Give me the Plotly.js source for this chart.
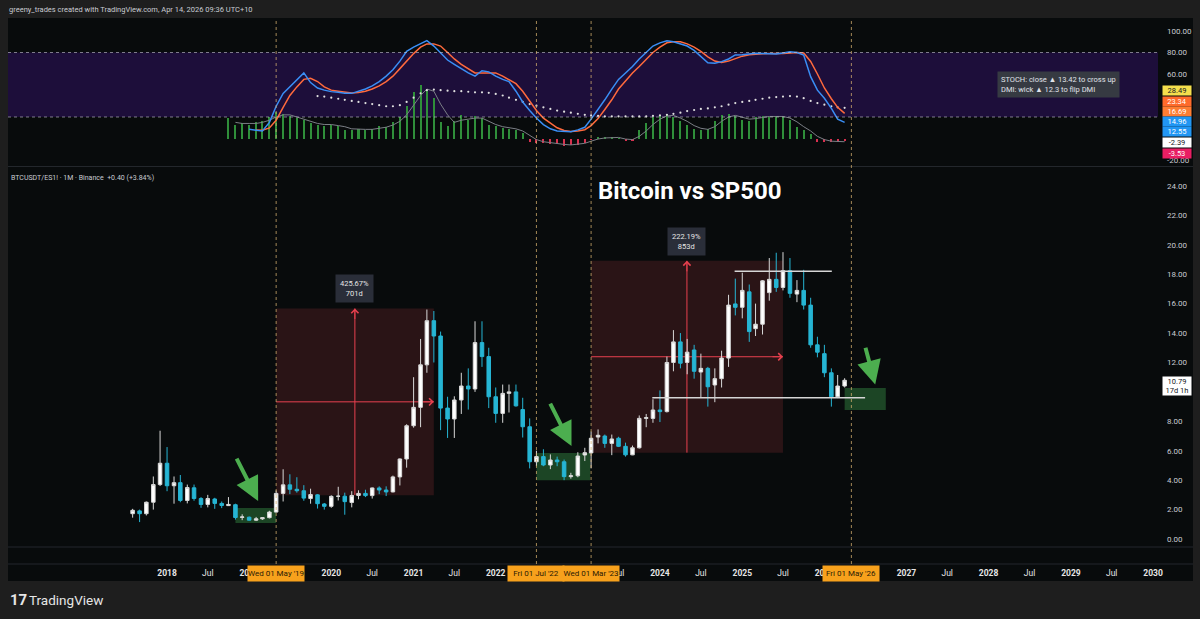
<!DOCTYPE html>
<html><head><meta charset="utf-8">
<script src="https://cdn.plot.ly/plotly-3.0.1.min.js"></script>
<style>html,body{margin:0;padding:0;background:#1e1e1e;}#chart{width:1200px;height:619px;}</style>
</head><body><div id="chart"></div>
<script>
// ---------- DATA (BTCUSDT / ES1!, monthly) ----------
const candleStart = '2017-08';
const openVals = [1.72,1.91,1.72,2.50,3.70,
 5.15,3.62,3.83,2.62,3.48,2.75,2.35,2.72,2.42,2.27,2.33,1.47,
 1.48,1.28,1.37,1.45,1.83,3.10,3.68,3.38,3.28,2.75,3.00,2.38,
 2.22,2.90,2.91,2.48,2.96,3.10,2.95,3.47,3.33,3.20,4.22,5.44,
 7.70,8.95,11.84,14.84,13.80,8.90,8.16,9.45,10.40,10.20,13.35,12.40,
 9.67,8.54,9.90,10.00,8.80,7.63,5.25,5.60,5.03,5.37,5.25,4.24,
 4.30,5.71,5.85,6.93,7.00,6.50,6.85,6.30,5.72,6.20,8.20,8.20,
 8.77,8.66,12.00,13.40,12.00,12.85,11.35,11.60,10.47,10.90,12.30,15.98,
 15.75,16.80,14.30,14.60,16.75,17.65,17.10,18.24,16.65,16.90,15.90,13.20,
 12.60,11.30,9.67,10.40];
const highVals = [2.05,2.00,2.55,4.25,7.36,
 6.25,4.25,4.35,3.70,3.70,2.85,3.00,2.80,2.55,2.85,2.40,1.68,
 1.53,1.50,1.48,1.92,3.30,4.74,4.40,4.20,3.66,3.42,3.05,2.45,
 2.97,3.55,3.15,3.25,3.31,3.35,3.50,3.58,3.58,4.31,5.48,7.80,
 11.00,13.60,15.60,15.50,14.10,9.67,9.70,11.30,11.60,14.80,14.80,13.00,
 10.30,10.50,10.50,10.50,9.60,8.20,6.00,6.10,5.75,5.60,5.40,4.50,
 5.90,6.20,7.30,7.45,7.10,7.10,6.95,6.55,6.35,8.40,8.50,9.50,
 10.10,12.40,14.20,14.00,13.60,13.20,12.60,11.70,11.60,12.80,16.60,17.70,
 18.10,17.30,16.00,17.60,19.10,19.46,19.50,19.10,17.60,18.30,16.40,13.75,
 13.20,11.60,11.15,10.93];
const lowVals = [1.45,1.15,1.60,2.00,3.60,
 3.25,2.40,2.50,2.42,2.60,2.12,2.15,2.05,2.10,2.25,1.32,1.28,
 1.25,1.22,1.30,1.40,1.80,2.55,3.05,3.15,2.60,2.40,2.07,2.00,
 2.12,2.62,1.65,2.15,2.70,2.85,2.75,3.05,2.92,3.17,3.64,4.85,
 7.57,7.60,11.30,12.00,7.40,6.87,6.87,8.50,8.80,10.00,11.70,8.90,
 7.90,7.90,8.60,9.00,6.90,4.80,4.95,4.95,4.75,4.95,4.00,4.10,
 4.20,5.30,4.80,6.50,6.20,5.70,6.25,5.60,5.70,6.15,7.60,7.90,
 7.95,8.60,11.40,11.60,11.20,10.90,9.65,9.00,9.30,10.30,11.70,15.20,
 15.00,13.40,13.80,13.90,16.20,16.80,16.90,16.40,16.10,15.60,13.00,12.35,
 11.00,9.00,9.58,10.30];
const closeVals = [1.95,1.72,2.50,3.70,5.15,
 3.62,3.83,2.62,3.50,2.75,2.35,2.75,2.42,2.28,2.35,1.46,1.50,
 1.28,1.37,1.45,1.83,3.10,3.68,3.38,3.28,2.78,3.02,2.40,2.22,
 2.90,2.91,2.54,2.96,3.10,2.95,3.47,3.33,3.20,4.22,5.44,7.70,
 8.95,11.84,14.84,13.80,8.90,8.16,9.45,10.40,10.20,13.35,12.40,9.67,
 8.54,9.90,10.00,9.05,7.63,5.25,5.60,5.03,5.37,5.25,4.24,4.30,
 5.64,5.87,6.85,7.05,6.50,6.80,6.30,5.72,6.20,8.20,8.25,8.77,
 8.66,12.00,13.40,11.95,12.70,11.40,11.60,10.35,10.90,12.30,15.90,15.75,
 16.90,14.10,14.60,17.55,17.65,17.10,18.24,16.70,16.90,15.90,13.20,12.70,
 11.30,9.67,10.40,10.79];

// Indicator pane (Stoch K / D, DMI dots, histogram + signal)
const kStart = '2019-01';
const kVals = [8.5,7.5,7,15,30,42,48,55,61,52,47,45,
 43.6,43,42,42,44,46,49,53,58,64,72,81,
 85,88,91,86,80,73,69,65,61,58,63,62,
 58,55,53,44,34,26,19,13,9,7,6.5,6.3,
 8,10.4,18,27,36,46,55,61,67,74,80,86,
 89,91,90,88,86,82,76,70.5,70,71.5,74,77.7,
 78,78.5,79.2,79,78.8,78.6,79.5,80.8,80,77.7,57.5,45,
 37.4,28,18,14.96];
const dStart = '2019-02';
const dVals = [8,7.7,9.8,17,29,40,48,55,56,53,48,
 45,44,43,42.3,42.7,44,46,49,53,58,65,72,
 79,85,88,88,86,80,74,69,65,61,61,61,
 61,58,55,51,44,35,26,19,14,10,7.5,6.6,
 7,8.2,12,18.5,27,36,46,54,61,67,74,80,
 85,89,90,90,88,85,81,76,72,70.7,72,74.4,
 76.6,78,78.6,78.9,79,78.8,79,79.6,80.1,79.5,71.7,60,
 47,37,29,23.34];
const dotStart = '2019-11';
const dotVals = [39.5,39,
 38,37,36,35,34,33,32,31,30,30,31,34,
 38,42,45,45.5,45,44.5,44,44,43.5,43,43,42.5,
 41.5,40,38,36,34,32,30.5,29,27.5,26,25,24,
 23,22,21.5,21,20.5,20.5,20.5,20.5,20.5,20.5,20.5,21,
 21.5,22,23,24,25.5,26.5,27.5,28,29,30,31.5,33,
 34,35,36,37,38,38.5,39,39.5,39,37.5,35,33,
 31.5,30,29,28.49];
const histStart = '2018-10';
const histVals = [19,13,14,
 13,15,16,20,25,23,21,19,17,14,13,12,
 13,12,8,8,9,8,9,12,11,15,20,30,
 43,50,44,38,15,12,16,22,17,21,19,13,
 12,10,9,8,5,-3,-4,-4,-5,-5,-7,-6,
 -6,-4,-1,1,1.5,1,0.5,-2,-2,8,14,20,
 22,23,20,16,13,9,8,9,16,22,23,21,
 17,16,20,21,20,21,20,17,11,8,4,-3,
 -3,-3.5,-3,-2.39];
const sigStart = '2018-11';
const sigVals = [15,14,
 14,14,15,17,20,22,22,20,18,16,14,13,
 13,12,11,9,8.5,8.5,8.5,9.5,10.5,12.5,16,22,
 31,40,46,44,32,22,15,17,18,19,19,16,
 13,11,10,9,7,3,-1,-3,-4,-4.5,-5.5,-6,
 -5.5,-4.5,-2.5,-0.5,0.5,1,1,-0.5,-1,2,7,13,
 18,21,21.5,19,16,12,9.5,8.5,11,16,20,21.5,
 19.5,18,18.5,19.5,20.5,20.5,20.5,19,15.5,11,7,2,
 -1,-2.5,-3,-3];

// Axis labels (ticks fully hidden under the date flags are left out)
const axisYears = [2018,2019,2020,2021,2022,2023,2024,2025,2026,2027,2028,2029,2030];
const hiddenTicks = ['2019-07-01','2022-07-01','2023-01-01','2026-07-01'];
const priceTicks = [0,2,4,6,8,10,12,14,16,18,20,22,24];
const oscTicks = [100,80,60,-20];

// Drawings
const measure1 = {start:'2019-05-01', end:'2021-04-01', low:2.98, high:15.67, pct:'425.67%', days:'701d'};
const measure2 = {start:'2023-03-01', end:'2025-07-01', low:5.87, high:18.91, pct:'222.19%', days:'853d'};
const markerDates = [['2019-05-01',"Wed 01 May '19"],['2022-07-01',"Fri 01 Jul '22"],['2023-03-01',"Wed 01 Mar '23"],['2026-05-01',"Fri 01 May '26"]];
const greenBoxes = [['2018-11-01','2019-05-01',1.09,2.1],['2022-07-01','2023-02-25',4.0,5.85],['2026-04-01','2026-10-01',8.77,10.27]];
const greenArrows = [['2018-11-03',5.57,'2019-02-10',2.58],['2022-08-28',9.31,'2022-12-04',6.32],['2026-07-01',13.1,'2026-08-15',10.5]];
const hLines = [['2024-11-28','2026-02-03',18.2],['2023-11-28','2026-07-01',9.6]];
const oscLabels = [['28.49','#f5df4d','#131722'],['23.34','#ff6a2b','#ffffff'],['16.69','#ff7d33','#ffffff'],['14.96','#2196f3','#ffffff'],['12.55','#2196f3','#ffffff'],['-2.39','#ffffff','#131722'],['-3.53','#e91e63','#ffffff']];

// ---------- helpers ----------
function months(start, n){
  let [y,m] = start.split('-').map(Number); const out=[];
  for(let i=0;i<n;i++){ out.push(y+'-'+String(m).padStart(2,'0')+'-01'); m++; if(m>12){m=1;y++;} }
  return out;
}
const PL=8, PR=1158, PT=18, PB=564;
const px = p => (p-PL)/(PR-PL);
const py = p => (PB-p)/(PB-PT);
function midDate(a,b){ return new Date((new Date(a).getTime()+new Date(b).getTime())/2).toISOString().slice(0,10); }

const candleX = months(candleStart, openVals.length);
const traces = [];
traces.push({type:'candlestick', x:candleX, open:openVals, high:highVals, low:lowVals, close:closeVals,
  xaxis:'x', yaxis:'y',
  increasing:{line:{color:'#d8d8d8',width:1}, fillcolor:'#ffffff'},
  decreasing:{line:{color:'#26b5d4',width:1}, fillcolor:'#26b5d4'},
  whiskerwidth:0, hoverinfo:'skip'});

const hx = months(histStart, histVals.length);
traces.push({type:'bar', x:hx, y:histVals, yaxis:'y2', width:9*86400000,
  marker:{color:histVals.map(v=>v>=0?'#2f8f3a':'#d9304f')}, hoverinfo:'skip'});
traces.push({type:'scatter', mode:'lines', x:months(sigStart,sigVals.length), y:sigVals, yaxis:'y2',
  line:{color:'#7b7f86',width:1}, hoverinfo:'skip'});
traces.push({type:'scatter', mode:'markers', x:months(dotStart,dotVals.length), y:dotVals, yaxis:'y2',
  marker:{color:'#e0e0e0',size:2.2}, hoverinfo:'skip'});
traces.push({type:'scatter', mode:'lines', x:months(dStart,dVals.length), y:dVals, yaxis:'y2',
  line:{color:'#ff6a3d',width:1.5}, hoverinfo:'skip'});
traces.push({type:'scatter', mode:'lines', x:months(kStart,kVals.length), y:kVals, yaxis:'y2',
  line:{color:'#3a8ef5',width:1.5}, hoverinfo:'skip'});

// ---------- shapes ----------
const shapes = [];
shapes.push({type:'rect', xref:'paper', yref:'paper', x0:px(8), x1:px(1193), y0:py(581), y1:py(18), fillcolor:'#080b0c', line:{width:0}, layer:'below'});
shapes.push({type:'rect', xref:'paper', yref:'y2', x0:0, x1:1, y0:20, y1:80, fillcolor:'#1d0e3a', line:{width:0}, layer:'below'});
[80,20].forEach(v=>shapes.push({type:'line', xref:'paper', yref:'y2', x0:0, x1:1, y0:v, y1:v, line:{color:'rgba(200,200,210,0.6)', width:1, dash:'dot'}}));
[166.5,547,564].forEach(p=>shapes.push({type:'line', xref:'paper', yref:'paper', x0:px(8), x1:px(1193), y0:py(p), y1:py(p), line:{color:'#23272c', width:1}}));
[measure1, measure2].forEach(m=>{
  const mx = midDate(m.start, m.end), my = (m.low+m.high)/2;
  shapes.push({type:'rect', xref:'x', yref:'y', x0:m.start, x1:m.end, y0:m.low, y1:m.high, fillcolor:'#2a1416', line:{width:0}, layer:'below'});
  shapes.push({type:'line', xref:'x', yref:'y', x0:mx, x1:mx, y0:m.low, y1:m.high, line:{color:'#e8414f', width:1}, layer:'below'});
  shapes.push({type:'line', xref:'x', yref:'y', x0:m.start, x1:m.end, y0:my, y1:my, line:{color:'#e8414f', width:1}, layer:'below'});
});
greenBoxes.forEach(b=>shapes.push({type:'rect', xref:'x', yref:'y', x0:b[0], x1:b[1], y0:b[2], y1:b[3], fillcolor:'#1c4525', line:{width:0}, layer:'below'}));
markerDates.forEach(d=>shapes.push({type:'line', xref:'x', yref:'paper', x0:d[0], x1:d[0], y0:0, y1:1, line:{color:'rgba(215,178,112,0.75)', width:1, dash:'dot'}}));
hLines.forEach(h=>shapes.push({type:'line', xref:'x', yref:'y', x0:h[0], x1:h[1], y0:h[2], y1:h[2], line:{color:'#d6d6d6', width:1.5}}));

// ---------- annotations ----------
const ann = [];
const T = (text, x, y, opt={}) => Object.assign({text, x:px(x), y:py(y), xref:'paper', yref:'paper', showarrow:false, xanchor:'left', yanchor:'middle', font:{family:'Roboto, Liberation Sans, sans-serif', size:8, color:'#c9ccd3'}}, opt);
ann.push(T('greeny_trades created with TradingView.com, Apr 14, 2026 09:36 UTC+10', 7, 9, {font:{family:'Roboto',size:7.5,color:'#c9ccd3'}}));
ann.push(T('BTCUSDT/ES1! · 1M · Binance  +0.40 (+3.84%)', 9, 178, {font:{family:'Roboto',size:7,color:'#c9ccd3'}}));
ann.push(T('<b>Bitcoin vs SP500</b>', 690, 191, {xanchor:'center', font:{family:'Roboto',size:24,color:'#ffffff'}}));
ann.push(T('STOCH: close ▲ 13.42 to cross up<br>DMI: wick ▲ 12.3 to flip DMI', 997, 84.5, {align:'left', bgcolor:'#363a42', borderpad:3, font:{family:'Roboto',size:7.5,color:'#e0e3ea'}}));
ann.push(T('<b>17</b>', 8, 600, {font:{family:'Roboto',size:15,color:'#e6e6e6'}}));
ann.push(T('TradingView', 27, 600, {font:{family:'Roboto',size:13.5,color:'#e6e6e6'}}));
ann.push(T('10.79<br>17d 1h', 1176.5, 385.5, {xanchor:'center', align:'center', bgcolor:'#ffffff', width:28, height:18, borderpad:0, font:{family:'Roboto',size:7.5,color:'#131722'}}));
const labY = [90.7,101.7,111.7,121.5,131.7,142.7,153.3];
oscLabels.forEach((l,i)=>ann.push(T(l[0], 1176.5, labY[i], {xanchor:'center', bgcolor:l[1], width:28, height:9, borderpad:0, font:{family:'Roboto',size:7.5,color:l[2]}})));
[measure1, measure2].forEach(m=>{
  const mx = midDate(m.start, m.end), my = (m.low+m.high)/2;
  ann.push({xref:'x', yref:'y', x:mx, y:m.high, yanchor:'bottom', yshift:5, showarrow:false, text:m.pct+'<br>'+m.days, bgcolor:'#2a2e39', borderpad:4, font:{family:'Roboto',size:7.5,color:'#e6e6e6'}});
  ann.push({xref:'x', yref:'y', x:mx, y:m.high, ax:0, ay:12, showarrow:true, arrowhead:4, arrowsize:1.4, arrowwidth:1, arrowcolor:'#e8414f', text:''});
  ann.push({xref:'x', yref:'y', x:m.end, y:my, ax:-12, ay:0, showarrow:true, arrowhead:4, arrowsize:1.4, arrowwidth:1, arrowcolor:'#e8414f', text:''});
});
greenArrows.forEach(a=>ann.push({xref:'x', yref:'y', axref:'x', ayref:'y', ax:a[0], ay:a[1], x:a[2], y:a[3], showarrow:true, arrowhead:2, arrowsize:1.2, arrowwidth:4, arrowcolor:'#4cae4f', text:''}));
markerDates.forEach(d=>ann.push({xref:'x', yref:'paper', x:d[0], y:py(573), xanchor:'center', yanchor:'middle', showarrow:false, text:d[1], bgcolor:'#f7a11c', width:56, height:15, borderpad:0, font:{family:'Roboto',size:8,color:'#2a1a05'}}));

// ---------- axes ----------
const tickvals=[], ticktext=[];
axisYears.forEach(y=>{
  const jan = y+'-01-01', jul = y+'-07-01';
  if(!hiddenTicks.includes(jan)){ tickvals.push(jan); ticktext.push('<b>'+y+'</b>'); }
  if(y<2030 && !hiddenTicks.includes(jul)){ tickvals.push(jul); ticktext.push('Jul'); }
});
const layout = {
  width:1200, height:619, paper_bgcolor:'#1e1e1e', plot_bgcolor:'#080b0c',
  margin:{l:PL, r:1200-PR, t:PT, b:619-PB}, showlegend:false, bargap:0, boxgap:0.2,
  font:{family:'Roboto, sans-serif', color:'#d1d4dc'},
  xaxis:{type:'date', range:['2016-01-25','2030-01-23'], anchor:'free', position:0, tickvals, ticktext,
    ticks:'', showgrid:false, zeroline:false, showline:false, rangeslider:{visible:false},
    tickfont:{family:'Roboto',size:8.5,color:'#e6e6e6'}, ticklabelstandoff:2},
  yaxis:{domain:[py(547), py(167)], range:[(539-547)/14.71, (539-167)/14.71], side:'right', anchor:'x',
    tickvals:priceTicks, ticktext:priceTicks.map(v=>v.toFixed(2)), showgrid:false, zeroline:false, showline:false,
    ticks:'', tickfont:{family:'Roboto',size:8,color:'#c9ccd3'}, ticklabelstandoff:8},
  yaxis2:{domain:[py(166), 1], range:[100-(166-31)/1.075, 100+(31-18)/1.075], side:'right', anchor:'x',
    tickvals:oscTicks, ticktext:oscTicks.map(v=>v.toFixed(2)), showgrid:false, zeroline:false, showline:false,
    ticks:'', tickfont:{family:'Roboto',size:8,color:'#c9ccd3'}, ticklabelstandoff:8},
  shapes, annotations:ann
};
Plotly.newPlot('chart', traces, layout, {staticPlot:true, displayModeBar:false});
</script>
</body></html>
